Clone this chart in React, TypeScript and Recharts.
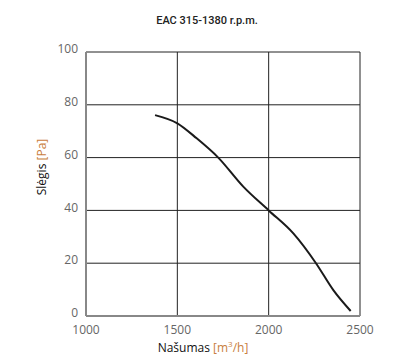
import { LineChart, Line, XAxis, YAxis, CartesianGrid, Label } from "recharts"

const airflow = [1378, 1500, 1606, 1724, 1861, 2000, 2135, 2259, 2354, 2449]
const pressure = [76.1, 73.0, 67.3, 60.0, 49.0, 40.0, 31.3, 20.0, 9.8, 1.9]
const xTicks = [1000, 1500, 2000, 2500]
const yTicks = [0, 20, 40, 60, 80, 100]

const data = airflow.map((x, i) => ({ x, y: pressure[i] }))

const font = "'Open Sans', 'DejaVu Sans', sans-serif"
const unitColor = "#c98040"

function XLabel() {
  return (
    <text x={203} y={352} textAnchor="middle" fontSize={12} fontFamily={font}>
      <tspan fill="#111">Našumas </tspan>
      <tspan fill={unitColor}>[m</tspan>
      <tspan fill={unitColor} fontSize={8} dy={-5}>3</tspan>
      <tspan fill={unitColor} dy={5}>/h]</tspan>
    </text>
  )
}

function YLabel() {
  const cx = 46
  const cy = 167
  return (
    <text x={cx} y={cy} textAnchor="middle" fontSize={12} fontFamily={font} transform={`rotate(-90 ${cx} ${cy})`}>
      <tspan fill="#111">Slėgis </tspan>
      <tspan fill={unitColor}>[Pa]</tspan>
    </text>
  )
}

export default function App() {
  return (
    <div style={{ position: "fixed", left: 0, top: 0, width: 411, height: 364, background: "#fff" }}>
      <div
        style={{
          position: "absolute",
          top: 14,
          left: 0,
          width: 414,
          textAlign: "center",
          fontFamily: "Roboto, sans-serif",
          fontSize: 11,
          fontWeight: 500,
          color: "#222",
        }}
      >
        EAC 315-1380 r.p.m.
      </div>
      <LineChart width={411} height={364} data={data} margin={{ top: 52, right: 51, bottom: 18, left: 26 }}>
        <CartesianGrid stroke="#222" strokeWidth={1} />
        <XAxis
          dataKey="x"
          type="number"
          domain={[1000, 2500]}
          ticks={xTicks}
          height={30}
          tickLine={false}
          tickSize={7}
          axisLine={{ stroke: "#888", strokeWidth: 2 }}
          tick={{ fill: "#666", fontSize: 12, fontFamily: font }}
          interval={0}
        >
          <Label content={<XLabel />} />
        </XAxis>
        <YAxis
          dataKey="y"
          type="number"
          width={60}
          domain={[0, 100]}
          ticks={yTicks}
          tickLine={false}
          tickSize={6}
          axisLine={{ stroke: "#888", strokeWidth: 2 }}
          tick={{ fill: "#666", fontSize: 12, fontFamily: font, dy: -3 }}
          interval={0}
        >
          <Label content={<YLabel />} />
        </YAxis>
        <Line
          type="monotone"
          dataKey="y"
          stroke="#1a1a1a"
          strokeWidth={2}
          dot={false}
          isAnimationActive={false}
        />
      </LineChart>
    </div>
  )
}
